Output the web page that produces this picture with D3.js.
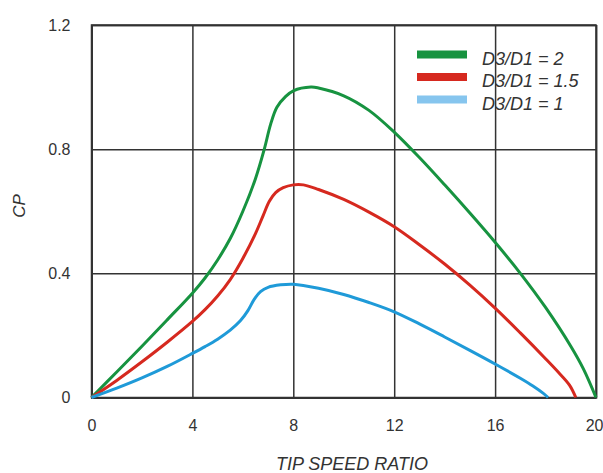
<!DOCTYPE html>
<html>
<head>
<meta charset="utf-8">
<script src="https://cdn.jsdelivr.net/npm/d3@7"></script>
<style>
    html, body { margin: 0; padding: 0; background: #fff; }
    svg { display: block; font-family: "Liberation Sans", Arial, sans-serif; }
    .grid line, .grid path { stroke: #333; stroke-width: 1.5; }
    .grid text { fill: #333; font-size: 16px; }
</style>
</head>
<body>
<svg id="chart" width="603" height="473"></svg>
<script>
// --- data ---
const seriesNames = ['D3/D1 = 2', 'D3/D1 = 1.5', 'D3/D1 = 1'];

const tsrGreen = [0, 1, 2, 3, 4, 4.5, 5, 5.5, 6, 6.5, 6.85, 7.1, 7.35, 7.7, 8, 8.7, 9, 10, 11, 12, 13, 14, 15, 16, 17, 18, 19, 19.5, 20];
const cpGreen  = [0, 0.082, 0.165, 0.25, 0.336, 0.385, 0.443, 0.512, 0.6, 0.705, 0.8, 0.88, 0.935, 0.97, 0.988, 1.0, 0.997, 0.972, 0.925, 0.855, 0.773, 0.685, 0.594, 0.5, 0.4, 0.29, 0.165, 0.092, 0];

const tsrRed = [0, 1, 2, 3, 4, 4.5, 5, 5.5, 6, 6.5, 6.8, 7.05, 7.3, 7.6, 8, 8.4, 9, 10, 11, 12, 13, 14, 15, 16, 17, 18, 18.5, 18.95, 19.2];
const cpRed  = [0, 0.055, 0.115, 0.178, 0.245, 0.283, 0.327, 0.38, 0.448, 0.528, 0.585, 0.632, 0.66, 0.676, 0.685, 0.685, 0.67, 0.638, 0.597, 0.55, 0.492, 0.43, 0.362, 0.288, 0.208, 0.125, 0.082, 0.04, 0];

const tsrBlue = [0, 1, 2, 3, 4, 4.5, 5, 5.5, 5.9, 6.2, 6.45, 6.7, 7, 7.5, 8, 9, 10, 11, 12, 13, 14, 15, 16, 17, 17.5, 17.9, 18.1];
const cpBlue  = [0, 0.03, 0.063, 0.1, 0.142, 0.164, 0.188, 0.217, 0.247, 0.28, 0.316, 0.341, 0.355, 0.363, 0.365, 0.352, 0.332, 0.306, 0.276, 0.237, 0.195, 0.152, 0.108, 0.062, 0.037, 0.014, 0];

const xTicks = [0, 4, 8, 12, 16, 20];
const yTicks = [0, 0.4, 0.8, 1.2];

const lineColors   = ['#179340', '#d6291f', '#1f9ad8'];
const legendColors = ['#179340', '#d6291f', '#86c5ee'];

const series = [
    { name: seriesNames[0], x: tsrGreen, y: cpGreen },
    { name: seriesNames[1], x: tsrRed, y: cpRed },
    { name: seriesNames[2], x: tsrBlue, y: cpBlue }
];

const margin = { top: 25, right: 7, bottom: 75.5, left: 91.5 };
const width = 603 - margin.left - margin.right;
const height = 473 - margin.top - margin.bottom;

const svg = d3.select('#chart');
const g = svg.append('g').attr('transform', `translate(${margin.left},${margin.top})`);

const x = d3.scaleLinear().domain([0, 20]).range([0, width]);
const y = d3.scaleLinear().domain([0, 1.2]).range([height, 0]);

// grid doubles as the axes
const xAxis = g.append('g')
    .attr('class', 'grid')
    .attr('transform', `translate(0,${height})`)
    .call(d3.axisBottom(x).tickValues(xTicks).tickSize(-height).tickPadding(22).tickFormat(d3.format('d')));

// last label sits right on the page edge, keep it inside
xAxis.selectAll('.tick text')
    .filter(d => d === xTicks[xTicks.length - 1])
    .attr('text-anchor', 'end')
    .attr('dx', margin.right);

g.append('g')
    .attr('class', 'grid')
    .call(d3.axisLeft(y).tickValues(yTicks).tickSize(-width).tickPadding(21).tickFormat(d => d === 0 ? '0' : d3.format('.1f')(d)));

g.append('rect')
    .attr('width', width)
    .attr('height', height)
    .attr('fill', 'none')
    .attr('stroke', '#333')
    .attr('stroke-width', 1.5);

const line = d3.line()
    .x(d => x(d[0]))
    .y(d => y(d[1]))
    .curve(d3.curveCatmullRom.alpha(0.5));

g.selectAll('path.curve')
    .data(series)
    .join('path')
    .attr('class', 'curve')
    .attr('fill', 'none')
    .attr('stroke', (d, i) => lineColors[i])
    .attr('stroke-width', 3)
    .attr('d', d => line(d.x.map((v, i) => [v, d.y[i]])));

// legend
const legend = svg.append('g').attr('transform', 'translate(417,54.5)');
const item = legend.selectAll('g')
    .data(series)
    .join('g')
    .attr('transform', (d, i) => `translate(0,${i * 22.5})`);

item.append('line')
    .attr('x1', 0).attr('x2', 50)
    .attr('stroke', (d, i) => legendColors[i])
    .attr('stroke-width', 8);

item.append('text')
    .attr('x', 65)
    .attr('y', 10)
    .attr('font-size', 18)
    .attr('font-style', 'italic')
    .attr('fill', '#333')
    .text(d => d.name);

// axis titles
svg.append('text')
    .attr('x', 352)
    .attr('y', 470)
    .attr('text-anchor', 'middle')
    .attr('font-size', 18)
    .attr('font-style', 'italic')
    .attr('fill', '#333')
    .text('TIP SPEED RATIO');

svg.append('text')
    .attr('transform', 'translate(25,206) rotate(-90)')
    .attr('text-anchor', 'middle')
    .attr('font-size', 17)
    .attr('font-style', 'italic')
    .attr('fill', '#333')
    .text('CP');
</script>
</body>
</html>
